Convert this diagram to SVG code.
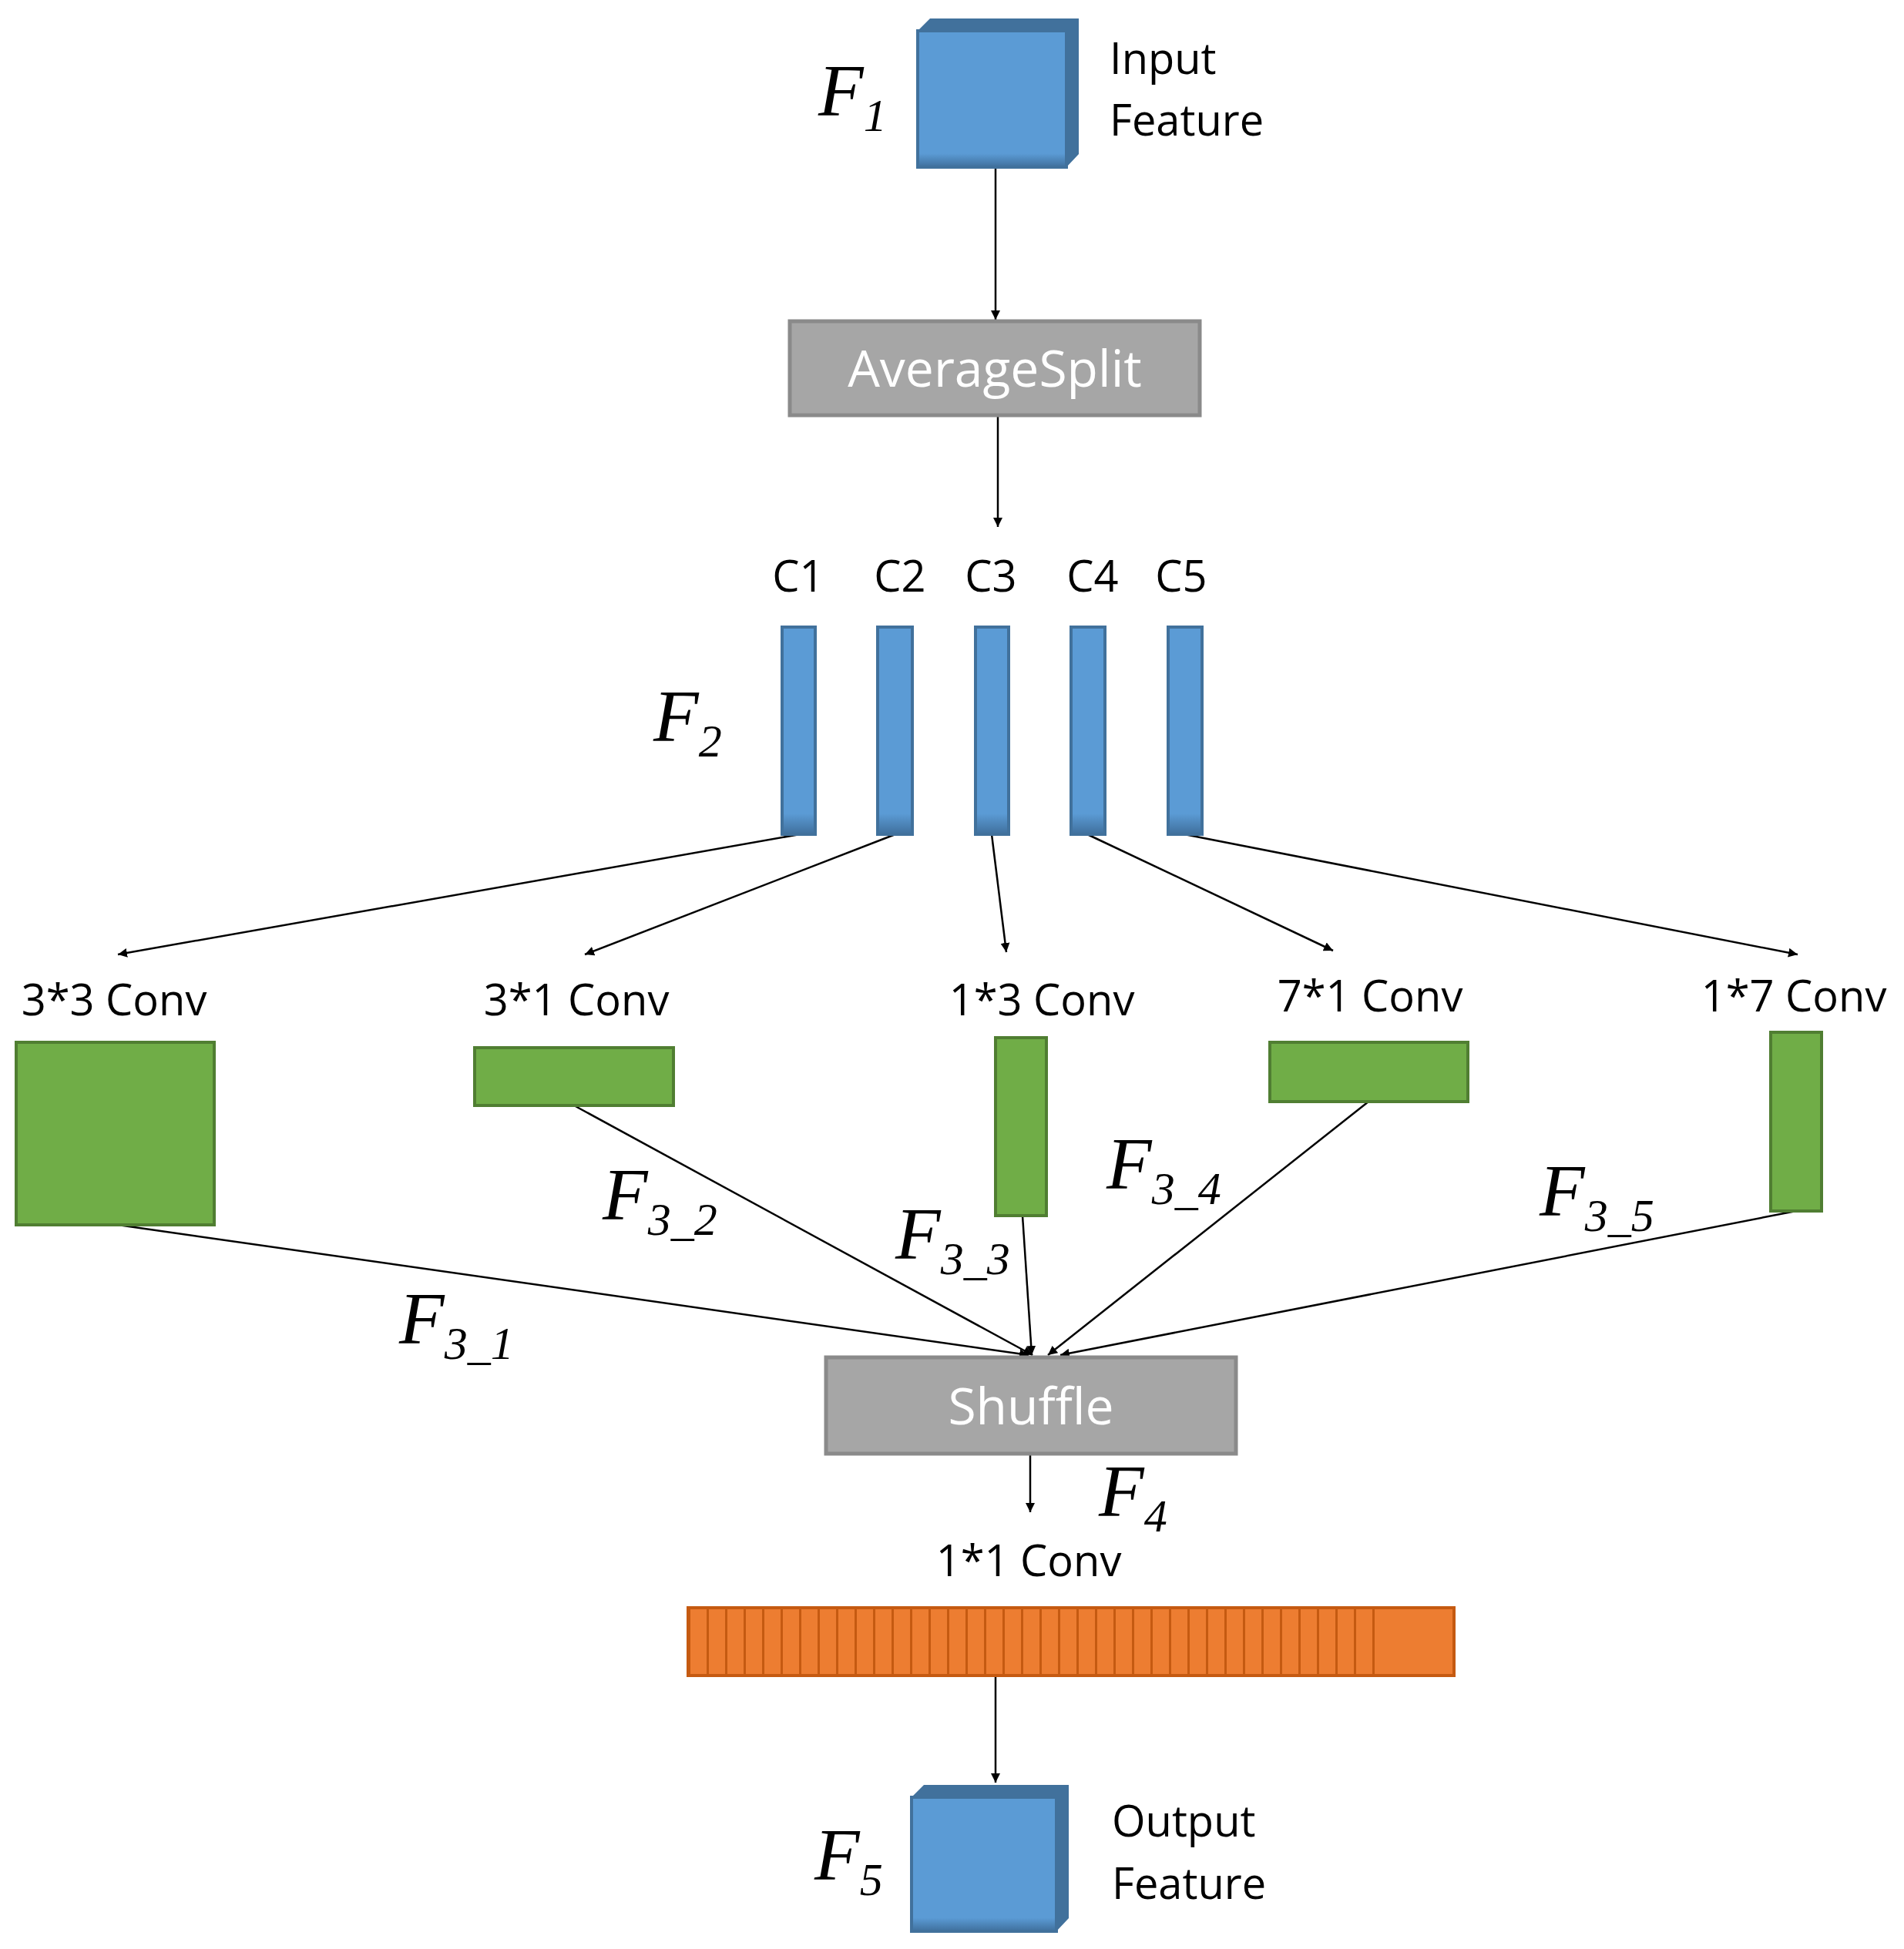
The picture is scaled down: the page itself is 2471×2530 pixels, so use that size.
<svg xmlns="http://www.w3.org/2000/svg" width="2471" height="2530" viewBox="0 0 2471 2530">
<style>
.lbl{font-family:"Open Sans","Liberation Sans",sans-serif;font-size:56px;fill:#000}
.box{font-family:"Open Sans","Liberation Sans",sans-serif;font-size:66px;fill:#fff}
.math{font-family:"Liberation Serif",serif;font-style:italic;font-size:96px;fill:#000}
.sub{font-size:60px}
.gray{fill:#a6a6a6;stroke:#8a8a8a;stroke-width:5}
.green{fill:#70ad47;stroke:#507e32;stroke-width:4}
.blue{fill:#5b9bd5;stroke:#41719c;stroke-width:4}
.side{fill:#41719c}
.edge{stroke:#000;stroke-width:2.5;fill:none;marker-end:url(#ah)}
</style>
<defs>
<marker id="ah" markerWidth="12" markerHeight="12" refX="12" refY="6" orient="auto" markerUnits="userSpaceOnUse" viewBox="0 0 12 12"><path d="M0,0 L12,6 L0,12 z" fill="#000"/></marker>
<pattern id="stripes" x="893" y="0" width="24" height="10" patternUnits="userSpaceOnUse"><rect width="24" height="10" fill="#ed7d31"/><rect x="0" width="3" height="10" fill="#c55a11"/></pattern>
<linearGradient id="bv" x1="0" y1="0" x2="0" y2="1"><stop offset="0" stop-color="#5b9bd5"/><stop offset="0.9" stop-color="#5b9bd5"/><stop offset="1" stop-color="#3f6f9c"/></linearGradient>
</defs>
<rect width="2471" height="2530" fill="#fff"/>
<g id="connectors">
<line class="edge" x1="1292" y1="217" x2="1292" y2="415"/>
<line class="edge" x1="1295" y1="539" x2="1295" y2="684"/>
<line class="edge" x1="1038" y1="1083" x2="153" y2="1239"/>
<line class="edge" x1="1162" y1="1083" x2="759" y2="1239"/>
<line class="edge" x1="1287" y1="1083" x2="1306" y2="1236"/>
<line class="edge" x1="1411" y1="1083" x2="1730" y2="1234"/>
<line class="edge" x1="1537" y1="1083" x2="2333" y2="1239"/>
<line class="edge" x1="153" y1="1590" x2="1335" y2="1759"/>
<line class="edge" x1="745" y1="1435" x2="1340" y2="1759"/>
<line class="edge" x1="1327" y1="1578" x2="1339" y2="1759"/>
<line class="edge" x1="1776" y1="1430" x2="1360" y2="1759"/>
<line class="edge" x1="2331" y1="1572" x2="1376" y2="1759"/>
<line class="edge" x1="1337" y1="1887" x2="1337" y2="1963"/>
<line class="edge" x1="1292" y1="2175" x2="1292" y2="2314"/>
</g>
<g id="input">
<path class="side" d="M1191,40 L1207,24 L1400,24 L1400,200 L1384,217 L1384,40 Z"/>
<rect x="1191" y="40" width="193" height="177" fill="url(#bv)" stroke="#41719c" stroke-width="4"/>
<text class="math" x="1062" y="150">F<tspan class="sub" dy="20">1</tspan></text>
<text class="lbl" x="1440" y="96">Input</text>
<text class="lbl" x="1440" y="176">Feature</text>
</g>
<g id="averagesplit">
<rect class="gray" x="1025" y="417" width="532" height="122"/>
<text class="box" x="1291" y="502" text-anchor="middle">AverageSplit</text>
</g>
<g id="f2">
<text class="lbl" x="1036" y="768" text-anchor="middle">C1</text>
<text class="lbl" x="1168" y="768" text-anchor="middle">C2</text>
<text class="lbl" x="1286" y="768" text-anchor="middle">C3</text>
<text class="lbl" x="1418" y="768" text-anchor="middle">C4</text>
<text class="lbl" x="1533" y="768" text-anchor="middle">C5</text>
<rect x="1015" y="814" width="43" height="269" fill="url(#bv)" stroke="#41719c" stroke-width="4"/>
<rect x="1139" y="814" width="45" height="269" fill="url(#bv)" stroke="#41719c" stroke-width="4"/>
<rect x="1266" y="814" width="43" height="269" fill="url(#bv)" stroke="#41719c" stroke-width="4"/>
<rect x="1390" y="814" width="44" height="269" fill="url(#bv)" stroke="#41719c" stroke-width="4"/>
<rect x="1516" y="814" width="44" height="269" fill="url(#bv)" stroke="#41719c" stroke-width="4"/>
<text class="math" x="848" y="962">F<tspan class="sub" dy="20">2</tspan></text>
</g>
<g id="conv33">
<text class="lbl" x="148" y="1318" text-anchor="middle">3*3 Conv</text>
<rect class="green" x="21" y="1353" width="257" height="237"/>
</g>
<g id="conv31">
<text class="lbl" x="748" y="1318" text-anchor="middle">3*1 Conv</text>
<rect class="green" x="616" y="1360" width="258" height="75"/>
</g>
<g id="conv13">
<text class="lbl" x="1352" y="1318" text-anchor="middle">1*3 Conv</text>
<rect class="green" x="1292" y="1347" width="66" height="231"/>
</g>
<g id="conv71">
<text class="lbl" x="1778" y="1313" text-anchor="middle">7*1 Conv</text>
<rect class="green" x="1648" y="1353" width="257" height="77"/>
</g>
<g id="conv17">
<text class="lbl" x="2328" y="1313" text-anchor="middle">1*7 Conv</text>
<rect class="green" x="2298" y="1340" width="66" height="232"/>
</g>
<g id="f3labels">
<text class="math" x="518" y="1744">F<tspan class="sub" dy="20">3_1</tspan></text>
<text class="math" x="782" y="1583">F<tspan class="sub" dy="20">3_2</tspan></text>
<text class="math" x="1162" y="1634">F<tspan class="sub" dy="20">3_3</tspan></text>
<text class="math" x="1436" y="1543">F<tspan class="sub" dy="20">3_4</tspan></text>
<text class="math" x="1998" y="1578">F<tspan class="sub" dy="20">3_5</tspan></text>
</g>
<g id="shuffle">
<rect class="gray" x="1072" y="1762" width="532" height="125"/>
<text class="box" x="1338" y="1849" text-anchor="middle">Shuffle</text>
</g>
<g id="conv11">
<text class="math" x="1426" y="1968">F<tspan class="sub" dy="20">4</tspan></text>
<text class="lbl" x="1335" y="2046" text-anchor="middle">1*1 Conv</text>
<rect x="893" y="2087" width="994" height="88" fill="#ed7d31"/>
<rect x="893" y="2087" width="909" height="88" fill="url(#stripes)"/>
<rect x="893" y="2087" width="994" height="88" fill="none" stroke="#c55a11" stroke-width="4"/>
</g>
<g id="output">
<path class="side" d="M1183,2333 L1199,2317 L1387,2317 L1387,2490 L1371,2507 L1371,2333 Z"/>
<rect x="1183" y="2333" width="188" height="174" fill="url(#bv)" stroke="#41719c" stroke-width="4"/>
<text class="math" x="1057" y="2440">F<tspan class="sub" dy="20">5</tspan></text>
<text class="lbl" x="1443" y="2384">Output</text>
<text class="lbl" x="1443" y="2465">Feature</text>
</g>
</svg>
